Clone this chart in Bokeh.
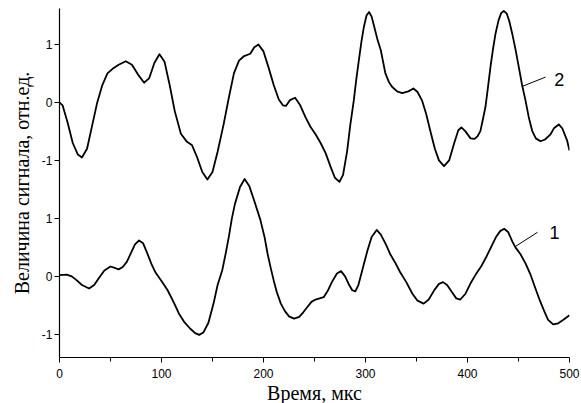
from bokeh.plotting import figure
from bokeh.models import Range1d, FixedTicker, Label
from bokeh.embed import file_html
from bokeh.resources import INLINE

# ---- data ----
t2 = [0, 3, 8, 13, 18, 22, 27, 32, 37, 42, 47, 52, 58, 65, 71, 77, 83, 88, 93, 98,
      103, 108, 113, 119, 125, 130, 135, 140, 145, 150, 155, 161, 166, 171, 176, 181,
      187, 191, 195, 200, 205, 210, 215, 219, 222, 226, 231, 236, 241, 246, 251, 256,
      261, 266, 270, 274.5, 278, 282, 285, 288.5, 291, 293.5, 296, 298.5, 301, 303.5,
      306, 308.5, 311.5, 315, 319.5, 323, 326, 331, 336, 342, 347, 351, 355.5, 359.5,
      363.5, 368, 372, 377, 382, 387, 391, 394, 398, 403, 407, 410, 412.7, 415, 417.6,
      420, 422.5, 425, 427.5, 430.5, 433, 435.6, 438.5, 441, 443.8, 447, 450.3, 453.5,
      456.9, 460, 463.4, 467, 471.6, 476, 481.4, 485, 489.5, 493, 497.7, 500]
s2 = [0.0, -0.05, -0.35, -0.7, -0.9, -0.95, -0.8, -0.4, 0.0, 0.3, 0.5, 0.58, 0.65, 0.71,
      0.65, 0.48, 0.34, 0.42, 0.68, 0.83, 0.7, 0.3, -0.15, -0.54, -0.68, -0.74, -0.95,
      -1.2, -1.33, -1.2, -0.85, -0.37, 0.08, 0.5, 0.72, 0.8, 0.84, 0.95, 1.0, 0.88, 0.6,
      0.3, 0.05, -0.05, -0.06, 0.04, 0.08, -0.05, -0.25, -0.42, -0.55, -0.7, -0.88,
      -1.12, -1.3, -1.37, -1.25, -0.84, -0.4, 0.03, 0.4, 0.73, 1.05, 1.31, 1.5, 1.56,
      1.48, 1.31, 1.1, 0.9, 0.5, 0.35, 0.27, 0.19, 0.16, 0.19, 0.24, 0.18, 0.03, -0.2,
      -0.49, -0.8, -1.0, -1.1, -1.0, -0.7, -0.48, -0.43, -0.5, -0.62, -0.63, -0.58,
      -0.49, -0.3, -0.08, 0.25, 0.61, 0.92, 1.19, 1.42, 1.54, 1.58, 1.53, 1.4, 1.19,
      0.92, 0.61, 0.3, 0.03, -0.25, -0.49, -0.62, -0.67, -0.64, -0.55, -0.44, -0.38,
      -0.45, -0.66, -0.83]

t1 = [0, 7, 12, 17, 22, 29, 34, 39, 44, 50, 55, 58, 62, 66, 70, 74, 78, 82, 86, 90, 94,
      100, 106, 112, 117, 122, 128, 133, 137, 141, 146, 151, 155, 159.5, 163, 166, 169,
      172, 177, 181.5, 186, 191, 197, 201, 204, 207, 210, 213, 217, 221, 225, 230, 235,
      239, 243, 247, 251, 255, 259, 263, 267, 272, 276, 280, 284, 287, 290, 293, 296,
      299, 302, 306, 311, 315, 320, 324, 329, 334, 340, 346, 351, 357, 362, 367, 372,
      376, 380, 385, 389, 393, 398, 403, 408, 413, 418, 423, 428, 432, 436, 440, 444,
      447, 452, 457, 462, 466, 471, 475, 479, 484, 489, 494, 500]
s1 = [0.02, 0.03, 0.0, -0.07, -0.15, -0.21, -0.15, -0.02, 0.1, 0.17, 0.14, 0.12, 0.16,
      0.25, 0.4, 0.55, 0.62, 0.57, 0.4, 0.22, 0.07, -0.08, -0.24, -0.45, -0.64, -0.78,
      -0.9, -0.98, -1.01, -0.97, -0.8, -0.47, -0.15, 0.1, 0.4, 0.68, 1.0, 1.25, 1.54,
      1.68, 1.56, 1.3, 0.97, 0.68, 0.39, 0.15, -0.07, -0.27, -0.47, -0.6, -0.69, -0.73,
      -0.7, -0.62, -0.53, -0.44, -0.4, -0.38, -0.36, -0.25, -0.1, 0.05, 0.09, 0.0,
      -0.15, -0.24, -0.26, -0.15, 0.05, 0.25, 0.45, 0.68, 0.8, 0.72, 0.55, 0.39, 0.24,
      0.07, -0.1, -0.3, -0.42, -0.47, -0.4, -0.25, -0.13, -0.1, -0.15, -0.28, -0.38,
      -0.4, -0.3, -0.12, 0.03, 0.16, 0.32, 0.5, 0.68, 0.78, 0.82, 0.76, 0.6, 0.5, 0.38,
      0.22, 0.02, -0.18, -0.42, -0.59, -0.75, -0.83, -0.81, -0.75, -0.67]

OFFSET = 3  # vertical offset of curve 2
x_ticks = [0, 100, 200, 300, 400, 500]
x_minor = [50, 150, 250, 350, 450]
y_ticks = [-1, 0, 1, 2, 3, 4]
y_tick_labels = ["-1", "0", "1", "-1", "0", "1"]

p = figure(frame_width=510, frame_height=349, output_backend="svg",
           toolbar_location=None, x_range=Range1d(0, 500), y_range=Range1d(-1.4, 4.62),
           min_border_left=59, min_border_right=12, min_border_top=8, min_border_bottom=38)
p.outline_line_color = None
p.grid.visible = False
p.background_fill_color = "white"
p.border_fill_color = "white"

p.line(t1, s1, line_color="black", line_width=1.8, line_join="round")
p.line(t2, [v + OFFSET for v in s2], line_color="black", line_width=1.8, line_join="round")

# annotations
p.line([447.1, 468.6], [0.517, 0.759], line_color="black", line_width=1)
p.line([453.6, 476.5], [3.276, 3.436], line_color="black", line_width=1)
for tx, ty, s in [(485.3, 0.76, "1"), (490.0, 3.40, "2")]:
    p.add_layout(Label(x=tx, y=ty, text=s, text_align="center", text_baseline="middle",
                       text_font="Liberation Sans", text_font_size="18px", text_color="black"))

xa = p.xaxis[0]
xa.ticker = FixedTicker(ticks=x_ticks, minor_ticks=x_minor)
ya = p.yaxis[0]
ya.ticker = FixedTicker(ticks=y_ticks, minor_ticks=[])
ya.major_label_overrides = {t: l for t, l in zip(y_ticks, y_tick_labels)}

for ax in (xa, ya):
    ax.axis_line_color = "black"
    ax.axis_line_width = 1.2
    ax.major_tick_line_color = "black"
    ax.minor_tick_line_color = "black"
    ax.major_tick_in = 0
    ax.major_tick_out = 5
    ax.minor_tick_in = 0
    ax.minor_tick_out = 4
    ax.major_label_text_font = "Liberation Sans"
    ax.major_label_text_font_size = "12px"
    ax.major_label_text_color = "black"
    ax.axis_label_text_font = "Liberation Serif"
    ax.axis_label_text_font_style = "normal"
    ax.axis_label_text_color = "black"

xa.axis_label = "Время, мкс"
xa.axis_label_text_font_size = "20px"
xa.major_label_standoff = 6
xa.axis_label_standoff = 1
ya.axis_label = "Величина сигнала, отн.ед."
ya.axis_label_text_font_size = "20px"
ya.major_label_standoff = 2
ya.axis_label_standoff = 6

open("out.html", "w").write(file_html(p, INLINE))
